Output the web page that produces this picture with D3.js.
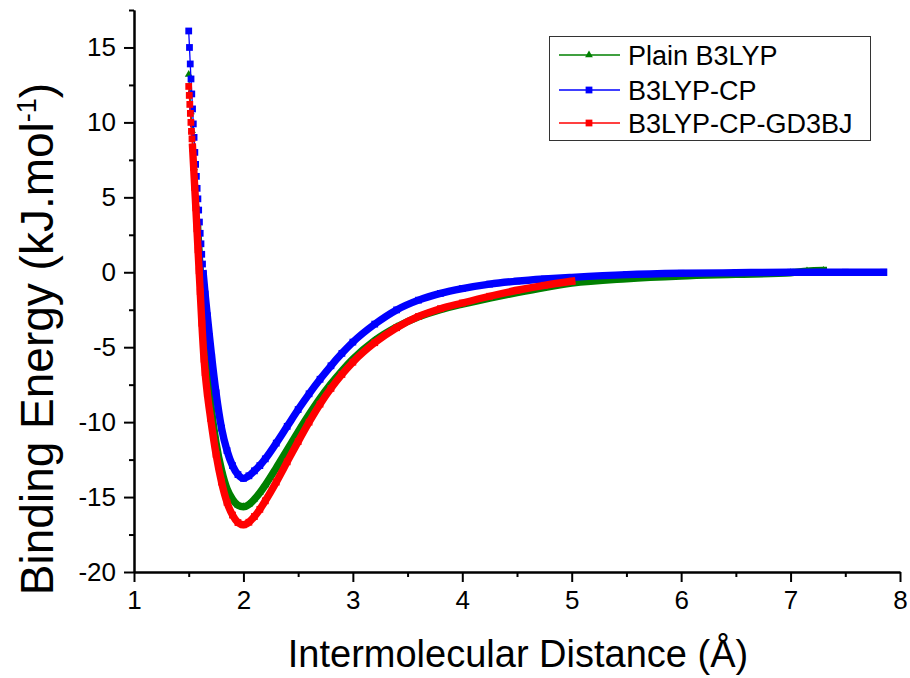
<!DOCTYPE html>
<html>
<head>
<meta charset="utf-8">
<script src="https://cdn.jsdelivr.net/npm/d3@7/dist/d3.min.js"></script>
<style>
  html, body { margin: 0; padding: 0; background: #fff; }
  svg { display: block; }
  text { font-family: "Liberation Sans", Arial, sans-serif; fill: #000; }
</style>
</head>
<body>
<svg id="chart" width="910" height="678"></svg>
<script>
// ---------------- data ----------------
const seriesNames = ["Plain B3LYP", "B3LYP-CP", "B3LYP-CP-GD3BJ"];

const plainX = [1.50,1.51,1.52,1.53,1.54,1.55,1.56,1.57,1.58,1.59,1.60,1.61,1.62,1.64,1.66,1.68,1.70,1.75,1.80,1.85,1.90,1.95,2.00,2.05,2.10,2.15,2.20,2.30,2.40,2.50,2.60,2.70,2.80,2.90,3.00,3.20,3.40,3.60,3.80,4.00,4.25,4.50,4.75,5.00,5.50,6.00,6.50,7.00,7.15,7.30];
const plainY = [13.2,11.95,10.7,9.45,8.2,6.95,5.7,4.45,3.2,1.95,0.7,-0.5,-1.65,-3.85,-5.7,-7.3,-8.7,-11.4,-13.2,-14.45,-15.15,-15.55,-15.65,-15.5,-15.15,-14.72,-14.2,-13.05,-11.85,-10.65,-9.5,-8.42,-7.45,-6.58,-5.8,-4.55,-3.65,-2.98,-2.5,-2.13,-1.73,-1.36,-1.02,-0.73,-0.43,-0.25,-0.14,-0.03,0.08,0.12];

const cpX = [1.500,1.507,1.514,1.521,1.528,1.535,1.542,1.549,1.556,1.563,1.570,1.577,1.584,1.591,1.598,1.605,1.612,1.619,1.626,1.633,1.65,1.67,1.69,1.71,1.75,1.80,1.85,1.90,1.95,2.00,2.05,2.10,2.15,2.20,2.30,2.40,2.50,2.60,2.70,2.80,2.90,3.00,3.20,3.40,3.60,3.80,4.00,4.25,4.50,4.75,5.00,5.50,6.00,6.50,7.00,7.25,7.50,7.85];
const cpY = [16.1,15.0,13.9,12.9,11.9,10.9,9.9,9.0,8.0,7.2,6.4,5.6,4.9,4.15,3.35,2.6,1.9,1.2,0.55,-0.1,-1.45,-2.9,-4.3,-5.65,-8.05,-10.4,-11.9,-12.9,-13.5,-13.75,-13.58,-13.25,-12.9,-12.45,-11.4,-10.28,-9.16,-8.11,-7.14,-6.24,-5.41,-4.66,-3.46,-2.51,-1.86,-1.41,-1.09,-0.79,-0.59,-0.45,-0.34,-0.16,-0.07,-0.03,0,0,0,0];

const gd3X = [1.500,1.505,1.510,1.515,1.520,1.525,1.530,1.535,1.545,1.555,1.565,1.575,1.585,1.595,1.605,1.62,1.64,1.65,1.67,1.70,1.75,1.80,1.85,1.90,1.95,2.00,2.05,2.10,2.15,2.20,2.30,2.40,2.50,2.60,2.70,2.80,2.90,3.00,3.20,3.40,3.60,3.80,4.00,4.25,4.50,4.75,5.00];
const gd3Y = [12.4,11.8,11.2,10.6,10.0,9.4,8.9,8.35,7.0,5.65,4.3,2.9,1.5,0.1,-1.3,-3.4,-5.8,-6.7,-8.1,-9.75,-12.15,-14.0,-15.35,-16.2,-16.7,-16.85,-16.68,-16.3,-15.82,-15.25,-14.0,-12.65,-11.3,-10.0,-8.8,-7.75,-6.82,-6.0,-4.7,-3.7,-2.95,-2.43,-2.05,-1.6,-1.2,-0.87,-0.6];

const xTicks = [1, 2, 3, 4, 5, 6, 7, 8];
const yTicks = [-20, -15, -10, -5, 0, 5, 10, 15];
const xMinorTicks = [1.5, 2.5, 3.5, 4.5, 5.5, 6.5, 7.5];
const yMinorTicks = [-17.5, -12.5, -7.5, -2.5, 2.5, 7.5, 12.5, 17.5];

// ---------------- drawing ----------------
const svg = d3.select("#chart");
const x = d3.scaleLinear().domain([1, 8]).range([134, 900]);
const y = d3.scaleLinear().domain([-20, 17.5]).range([572, 10]);

const series = [
  { name: seriesNames[0], xs: plainX, ys: plainY, color: "#008000", marker: "triangle", bandFrom: 1.58 },
  { name: seriesNames[1], xs: cpX,    ys: cpY,    color: "#0000ff", marker: "square",   bandFrom: 1.63 },
  { name: seriesNames[2], xs: gd3X,   ys: gd3Y,   color: "#ff0000", marker: "square",   bandFrom: 1.535 }
];

const line = d3.line().x(d => x(d[0])).y(d => y(d[1])).curve(d3.curveMonotoneX);
const symTri = d3.symbol().type(d3.symbolTriangle).size(26);
const symSq = d3.symbol().type(d3.symbolSquare).size(46);

const plot = svg.append("g");
series.forEach(s => {
  const pts = s.xs.map((v, i) => [v, s.ys[i]]);
  const g = plot.append("g");
  g.append("path").datum(pts).attr("d", line)
    .attr("fill", "none").attr("stroke", s.color).attr("stroke-width", 1.3);
  const band = pts.filter(p => p[0] >= s.bandFrom - 1e-9);
  g.append("path").datum(band).attr("d", line)
    .attr("fill", "none").attr("stroke", s.color).attr("stroke-width", 7.4)
    .attr("stroke-linejoin", "round").attr("stroke-linecap", "square");
  g.selectAll("path.m").data(pts).enter().append("path").attr("class", "m")
    .attr("transform", d => `translate(${x(d[0])},${y(d[1])})`)
    .attr("d", s.marker === "triangle" ? symTri() : symSq())
    .attr("fill", s.color);
});

// axes
const fontSize = 26;
function styleAxis(g) {
  g.selectAll("path.domain").attr("stroke", "#000").attr("stroke-width", 2);
  g.selectAll(".tick line").attr("stroke", "#000").attr("stroke-width", 2);
  g.selectAll(".tick text").style("font-size", fontSize + "px").style("font-family", '"Liberation Sans", Arial, sans-serif');
}
const gx = svg.append("g").attr("transform", "translate(0,572)")
  .call(d3.axisBottom(x).tickValues(xTicks).tickFormat(d3.format("d")).tickSize(10).tickSizeOuter(0).tickPadding(9));
styleAxis(gx);
const gxm = svg.append("g").attr("transform", "translate(0,572)")
  .call(d3.axisBottom(x).tickValues(xMinorTicks).tickFormat("").tickSize(5).tickSizeOuter(0));
styleAxis(gxm);
const gy = svg.append("g").attr("transform", "translate(134,0)")
  .call(d3.axisLeft(y).tickValues(yTicks).tickFormat(d3.format("d")).tickSize(10).tickSizeOuter(0).tickPadding(8));
styleAxis(gy);
gy.selectAll(".tick text").text(d => d < 0 ? "-" + Math.abs(d) : d);
const gym = svg.append("g").attr("transform", "translate(134,0)")
  .call(d3.axisLeft(y).tickValues(yMinorTicks).tickFormat("").tickSize(5).tickSizeOuter(0));
styleAxis(gym);

// axis titles
svg.append("text").attr("x", 518).attr("y", 667).attr("text-anchor", "middle")
  .style("font-size", "38px").text("Intermolecular Distance (Å)");
const yt = svg.append("text").attr("transform", "translate(53,339) rotate(-90)")
  .attr("text-anchor", "middle").style("font-size", "46px");
yt.append("tspan").text("Binding Energy (kJ.mol");
yt.append("tspan").attr("dy", -17).style("font-size", "27px").text("-1");
yt.append("tspan").attr("dy", 17).text(")");

// legend
const lg = svg.append("g");
lg.append("rect").attr("x", 549.5).attr("y", 36.5).attr("width", 321).attr("height", 104)
  .attr("fill", "#fff").attr("stroke", "#333").attr("stroke-width", 1);
const legY = [55, 90, 123];
series.forEach((s, i) => {
  lg.append("line").attr("x1", 559).attr("x2", 620).attr("y1", legY[i]).attr("y2", legY[i])
    .attr("stroke", s.color).attr("stroke-width", 1.5);
  lg.append("path").attr("transform", `translate(589,${legY[i]})`)
    .attr("d", s.marker === "triangle" ? symTri() : symSq()).attr("fill", s.color);
  lg.append("text").attr("x", 628).attr("y", legY[i]).attr("dy", "0.36em")
    .style("font-size", "27px").text(s.name);
});
</script>
</body>
</html>
